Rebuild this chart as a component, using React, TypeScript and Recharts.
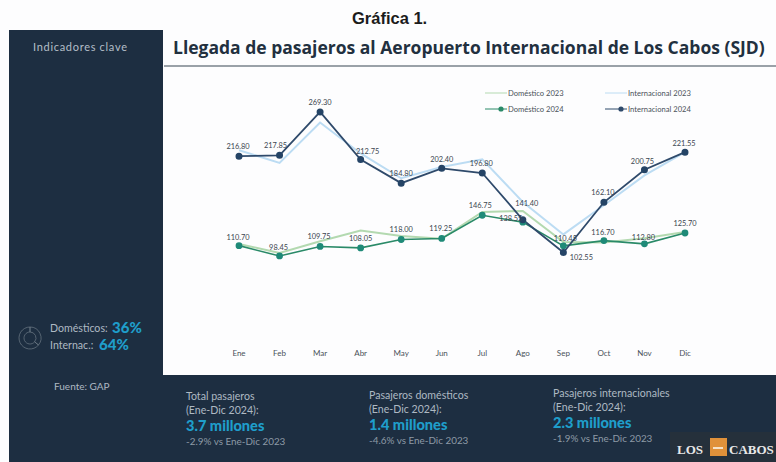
import React from "react";
import { LineChart, Line, XAxis, YAxis, Legend, LabelList, PieChart, Pie } from "recharts";

const months = ["Ene", "Feb", "Mar", "Abr", "May", "Jun", "Jul", "Ago", "Sep", "Oct", "Nov", "Dic"];
const domestico2023 = [112.7, 102, 116, 128.6, 122.2, 119, 150.7, 151.9, 115, 114.4, 119.5, 127];
const internacional2023 = [223.9, 208.8, 256.7, 220, 190.6, 204, 213, 162.5, 124, 158.6, 194, 221.5];
const domestico2024 = [110.7, 98.45, 109.75, 108.05, 118, 119.25, 146.75, 138.55, 110.45, 116.7, 112.8, 125.7];
const internacional2024 = [216.8, 217.85, 269.3, 212.75, 184.8, 202.4, 196.8, 141.4, 102.55, 162.1, 200.75, 221.55];
const shareNames = ["Domésticos", "Internac."];
const shareValues = [36, 64];

const chartData = months.map((month, i) => ({
  month,
  dom23: domestico2023[i],
  int23: internacional2023[i],
  dom24: domestico2024[i],
  int24: internacional2024[i],
}));
const shareData = shareNames.map((name, i) => ({ name, value: shareValues[i] }));

const FONT = "Lato, 'Open Sans', sans-serif";
const NAVY = "#1d2e41";
const CYAN = "#1f9ecb";

// label nudges [dx, dy] so the labels sit where they do in the original
const intNudge = [[-1, -10], [-4, -10], [0, -10], [7, -9], [0, -10], [0, -9], [-1, -10], [4, -17], [18, 4], [-1, -10], [-2, -9], [-1, -9]];
const domNudge = [[-1, -9], [-1, -9], [-1, -10], [0, -10], [0, -10], [-1, -10], [-2, -10], [-12, -4], [2, -8], [-1, -9], [-1, -7], [0, -10]];

const pointLabel = (nudge: number[][]) => (props: any) => {
  const { x, y, value, index } = props;
  const [dx, dy] = nudge[index];
  return (
    <text x={x + dx} y={y + dy} dy={3} textAnchor="middle" fontSize={7.4} fontFamily={FONT} fill="#3c4650">
      {value.toFixed(2)}
    </text>
  );
};

const legendRows = (props: any) => {
  const items = props.payload;
  return (
    <div
      style={{
        display: "grid",
        gridAutoFlow: "column",
        gridTemplateRows: "11px 11px",
        gridTemplateColumns: "120px 95px",
        rowGap: 5,
        fontFamily: FONT,
        fontSize: 7.6,
        color: "#4a525a",
      }}
    >
      {items.map((it: any) => (
        <div key={it.value} style={{ display: "flex", alignItems: "center", height: 11, whiteSpace: "nowrap" }}>
          <svg width={22} height={8} style={{ marginRight: 1, flex: "none" }}>
            <line x1={0} y1={4} x2={22} y2={4} stroke={it.color} strokeWidth={1} />
            {it.value.endsWith("2024") && <circle cx={16} cy={4} r={2.6} fill={it.color} />}
          </svg>
          <span>{it.value}</span>
        </div>
      ))}
    </div>
  );
};

const Txt = ({ x, y, size = 8.5, color = "#aeb9c3", weight = 400, family = FONT, spacing = 0, children }: any) => (
  <div
    style={{
      position: "absolute",
      left: x,
      top: y,
      fontSize: size,
      color,
      fontWeight: weight,
      fontFamily: family,
      letterSpacing: spacing,
      lineHeight: 1,
      whiteSpace: "nowrap",
    }}
  >
    {children}
  </div>
);

const Stat = ({ x, y, lines, big, note }: any) => (
  <>
    <Txt x={x} y={y} size={10.6}>{lines[0]}</Txt>
    <Txt x={x} y={y + 14} size={10.6}>{lines[1]}</Txt>
    <Txt x={x} y={y + 28} size={14.6} weight={900} color={CYAN}>{big}</Txt>
    <Txt x={x} y={y + 46} size={9.9} color="#8d9aa6">{note}</Txt>
  </>
);

export default function App() {
  return (
    <div style={{ position: "absolute", left: 0, top: 0, width: 776, height: 462, background: "#fdfdfe", overflow: "hidden" }}>
      <Txt x={352} y={10} size={16.5} weight={700} color="#1b1b1b" family="'Liberation Sans', Arial, sans-serif">Gráfica 1.</Txt>

      <div style={{ position: "absolute", left: 9, top: 30, width: 154, height: 432, background: NAVY }} />
      <div style={{ position: "absolute", left: 9, top: 375, width: 767, height: 87, background: NAVY }} />
      <Txt x={33} y={41} size={11} spacing={0.7} color="#b4bec8">Indicadores clave</Txt>

      <Txt x={173} y={39} size={17.5} weight={700} color="#22303f" family="'Open Sans', sans-serif">Llegada de pasajeros al Aeropuerto Internacional de Los Cabos (SJD)</Txt>
      <div style={{ position: "absolute", left: 164, top: 65, width: 612, height: 2, background: "#9aa1a8" }} />

      <div style={{ position: "absolute", left: 163, top: 66 }}>
        <LineChart width={613} height={310} data={chartData} margin={{ top: 20, right: 91, bottom: 0, left: 76 }}>
          <XAxis
            dataKey="month"
            axisLine={false}
            tickLine={false}
            height={37}
            interval={0}
            tick={{ fontSize: 8, fontFamily: FONT, fill: "#4a525a" }}
            tickMargin={5}
          />
          <YAxis hide domain={[0, 300]} />
          <Legend
            content={legendRows}
            verticalAlign="middle"
            wrapperStyle={{ position: "absolute", left: 322, top: 21, width: 240 }}
          />
          <Line dataKey="dom23" name="Doméstico 2023" stroke="#b3d9b0" strokeWidth={2} dot={false} isAnimationActive={false} />
          <Line dataKey="int23" name="Internacional 2023" stroke="#bcdcf3" strokeWidth={2} dot={false} isAnimationActive={false} />
          <Line dataKey="dom24" name="Doméstico 2024" stroke="#2a8a68" strokeWidth={1.6} dot={{ r: 2.6, fill: "#1f8a78", stroke: "#1f8a78" }} isAnimationActive={false}>
            <LabelList dataKey="dom24" content={pointLabel(domNudge)} />
          </Line>
          <Line dataKey="int24" name="Internacional 2024" stroke="#2f4a6b" strokeWidth={1.8} dot={{ r: 2.6, fill: "#254466", stroke: "#254466" }} isAnimationActive={false}>
            <LabelList dataKey="int24" content={pointLabel(intNudge)} />
          </Line>
        </LineChart>
      </div>

      <div style={{ position: "absolute", left: 16, top: 324 }}>
        <PieChart width={28} height={28} margin={{ top: 0, right: 0, bottom: 0, left: 0 }}>
          <Pie data={shareData} dataKey="value" cx={14} cy={14} innerRadius={6} outerRadius={11} startAngle={90} endAngle={-270} fill="none" stroke="#6f7b87" strokeWidth={0.7} isAnimationActive={false} />
        </PieChart>
      </div>
      <Txt x={50} y={323} size={10.6} color="#aeb9c3">{shareNames[0]}:</Txt>
      <Txt x={112} y={320} size={15} weight={900} color={CYAN}>{shareValues[0]}%</Txt>
      <Txt x={50} y={340} size={10.6} color="#aeb9c3">{shareNames[1]}:</Txt>
      <Txt x={99} y={337} size={15} weight={900} color={CYAN}>{shareValues[1]}%</Txt>
      <Txt x={54} y={381} size={10} color="#aeb9c3">Fuente: GAP</Txt>

      <Stat x={186} y={391} lines={["Total pasajeros", "(Ene-Dic 2024):"]} big="3.7 millones" note="-2.9% vs Ene-Dic 2023" />
      <Stat x={369} y={390} lines={["Pasajeros domésticos", "(Ene-Dic 2024):"]} big="1.4 millones" note="-4.6% vs Ene-Dic 2023" />
      <Stat x={553} y={388} lines={["Pasajeros internacionales", "(Ene-Dic 2024):"]} big="2.3 millones" note="-1.9% vs Ene-Dic 2023" />

      <div style={{ position: "absolute", left: 670, top: 432, width: 106, height: 30, background: "#25303b" }} />
      <Txt x={677} y={443} size={13} weight={700} color="#e8e8e8" family="'Liberation Serif', serif">LOS</Txt>
      <div style={{ position: "absolute", left: 710, top: 438, width: 17, height: 18, background: "#e0913a" }} />
      <div style={{ position: "absolute", left: 713, top: 447, width: 10, height: 2, background: "#f6e2c8" }} />
      <Txt x={729} y={443} size={13} weight={700} color="#e8e8e8" family="'Liberation Serif', serif">CABOS</Txt>
    </div>
  );
}
